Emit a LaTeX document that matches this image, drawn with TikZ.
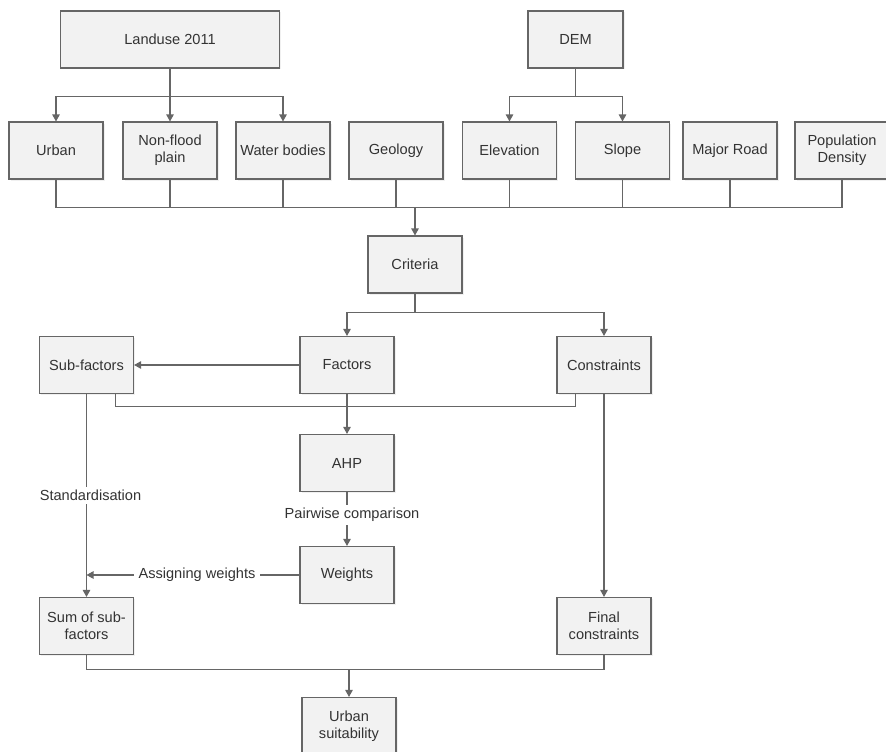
\documentclass[tikz,border=0pt]{standalone}
\usepackage{fontspec}
\setmainfont{Liberation Sans}
\usetikzlibrary{arrows.meta,shadows}
\definecolor{boxfill}{HTML}{F2F2F2}
\definecolor{boxline}{HTML}{666666}
\definecolor{txt}{HTML}{333333}
\begin{document}
\begin{tikzpicture}[x=1pt,y=-1pt,
  box/.style={draw=boxline,fill=boxfill,line width=1.1pt,minimum width=94pt,minimum height=57pt,
    align=center,text=txt,inner sep=2pt,font=\fontsize{14.6}{17}\selectfont,
    drop shadow={opacity=0.12,shadow xshift=1.5pt,shadow yshift=-1.5pt}},
  wire/.style={draw=boxline,line width=1.1pt},
  arr/.style={wire,-{Triangle[width=7.5pt,length=7pt]}},
  lbl/.style={fill=white,text=txt,inner xsep=5pt,inner ysep=3pt,font=\fontsize{14.6}{17}\selectfont}]
\useasboundingbox (0,0) rectangle (886,752);
\clip (0,0) rectangle (886,752);
% top sources
\node[box,minimum width=219pt] (land) at (170,39.5) {Landuse 2011};
\node[box,minimum width=95pt] (dem) at (575.5,39.5) {DEM};
% layer row
\node[box] (urban) at (56,150.5) {Urban};
\node[box] (nfp) at (170,150.5) {Non-flood\\plain};
\node[box] (water) at (283,150.5) {Water bodies};
\node[box] (geo) at (396,150.5) {Geology};
\node[box] (elev) at (509.5,150.5) {Elevation};
\node[box] (slope) at (622.5,150.5) {Slope};
\node[box] (road) at (730,150.5) {Major Road};
\node[box] (pop) at (842,150.5) {Population\\Density};
% middle
\node[box] (crit) at (415,264.5) {Criteria};
\node[box] (sub) at (86.5,365) {Sub-factors};
\node[box] (fac) at (347,365) {Factors};
\node[box] (cons) at (604,365) {Constraints};
\node[box] (ahp) at (347,463) {AHP};
\node[box] (wts) at (347,575) {Weights};
\node[box] (sum) at (86.5,626) {Sum of sub-\\factors};
\node[box] (fin) at (604,626) {Final\\constraints};
\node[box] (us) at (349,726) {Urban\\suitability};
% landuse branch
\draw[arr] (land.south) -- ++(0,28) -| (urban.north);
\draw[arr] (land.south) -- (nfp.north);
\draw[arr] (land.south) -- ++(0,28) -| (water.north);
% DEM branch
\draw[arr] (dem.south) -- ++(0,28) -| (elev.north);
\draw[arr] (dem.south) -- ++(0,28) -| (slope.north);
% bus to criteria
\coordinate (bus) at (415,207.7);
\foreach \n in {urban,nfp,water,geo,elev,slope,road,pop}
  \draw[wire] (\n.south) |- (bus);
\draw[arr] (bus) -- (crit.north);
% criteria split
\draw[arr] (crit.south) -- ++(0,18.7) -| (fac.north);
\draw[arr] (crit.south) -- ++(0,18.7) -| (cons.north);
% factors
\draw[arr] (fac.west) -- (sub.east);
\coordinate (mj) at (347,406.7);
\draw[wire] ([xshift=-19pt]sub.south east) |- (mj);
\draw[wire] ([xshift=-28.3pt]cons.south) |- (mj);
\draw[arr] (fac.south) -- (ahp.north);
\draw[arr] (ahp.south) -- node[lbl,xshift=5pt,yshift=4pt]{Pairwise comparison} (wts.north);
\draw[arr] (sub.south) -- node[lbl,xshift=4pt]{Standardisation} (sum.north);
\draw[arr] (wts.west) -- node[lbl,xshift=4pt]{Assigning weights} (sub.south |- wts.west);
\draw[arr] (cons.south) -- (fin.north);
% final
\coordinate (bj) at (349,669.3);
\draw[wire] (sum.south) |- (bj);
\draw[wire] (fin.south) |- (bj);
\draw[arr] (bj) -- (us.north);
\end{tikzpicture}
\end{document}
